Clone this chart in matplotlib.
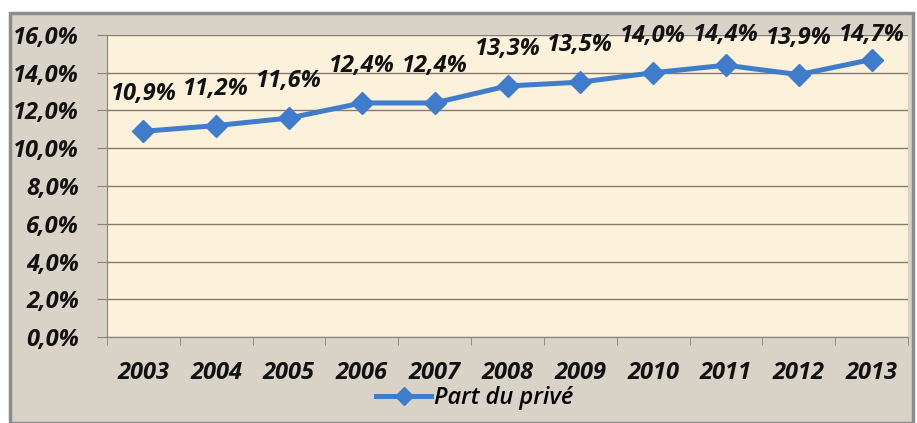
"""Part du privé 2003-2013, Excel-style line chart."""

import matplotlib
matplotlib.use('Agg')
import matplotlib.pyplot as plt  # pylint: disable=wrong-import-position
from matplotlib.patches import Rectangle  # pylint: disable=wrong-import-position
from matplotlib.ticker import FuncFormatter, FixedLocator  # pylint: disable=wrong-import-position

YEARS = ['2003', '2004', '2005', '2006', '2007', '2008',
         '2009', '2010', '2011', '2012', '2013']
PART_PRIVE = [10.9, 11.2, 11.6, 12.4, 12.4, 13.3, 13.5, 14.0, 14.4, 13.9, 14.7]
Y_TICKS = [0, 2, 4, 6, 8, 10, 12, 14, 16]

LINE_COLOR = '#3f7ccb'
FONT = 'Open Sans'
FS = 17


def fr_pct(v, _pos=None):
    return f"{v:.1f}%".replace('.', ',')


fig = plt.figure(figsize=(9.17, 4.23), dpi=100)
fig.patch.set_facecolor('white')

# outer chart frame
fig.patches.append(Rectangle((10 / 917, 0), 903 / 917, 1 - 13 / 423,
                             transform=fig.transFigure, facecolor='#d9d3c7',
                             edgecolor='#8c8c8c', linewidth=2.5, zorder=-1))

ax = fig.add_axes([107 / 917, 1 - 337 / 423, 801 / 917, 302 / 423])
ax.set_zorder(2)
ax.set_facecolor('#fcf2db')

x = list(range(len(YEARS)))
ax.plot(x, PART_PRIVE, '-', color=LINE_COLOR, linewidth=3.6,
        marker='D', markersize=11, label='Part du privé', zorder=3)

# data labels sit ~2 units above the point, but no higher than the top gridline
for xi, v in zip(x, PART_PRIVE):
    ax.text(xi, min(v + 1.95, 16.0), fr_pct(v), ha='center', va='center',
            fontsize=FS, fontweight='bold', fontstyle='italic', family=FONT,
            color='#111111', zorder=4, clip_on=False)

ax.set_xlim(-0.5, len(YEARS) - 0.5)
ax.set_ylim(0, 16)
ax.set_yticks(Y_TICKS)
ax.yaxis.set_major_formatter(FuncFormatter(fr_pct))
ax.set_xticks(x)
ax.set_xticklabels(YEARS)
ax.xaxis.set_minor_locator(FixedLocator([i - 0.5 for i in range(len(YEARS) + 1)]))
ax.tick_params(axis='x', which='major', length=0, pad=17)
ax.tick_params(axis='x', which='minor', length=6, color='#8a8275')
ax.tick_params(axis='y', length=7, color='#8a8275', pad=13)
for lab in ax.get_xticklabels() + ax.get_yticklabels():
    lab.set_family(FONT)
    lab.set_fontsize(FS)
    lab.set_fontweight('bold')
    lab.set_fontstyle('italic')
    lab.set_color('#111111')

ax.grid(axis='y', color='#857b6c', linewidth=1.0)
ax.set_axisbelow(True)
for side in ('top', 'right'):
    ax.spines[side].set_visible(False)
ax.spines['left'].set_color('#8a8275')
ax.spines['bottom'].set_color('#8a8275')

fig.legend(loc='center', bbox_to_anchor=(0.518, 0.059), frameon=False,
           handlelength=2.3, handletextpad=0.15, markerscale=0.8,
           prop={'family': FONT, 'style': 'italic', 'weight': 'semibold', 'size': 17})

fig.savefig('out.png', dpi=100)
plt.close(fig)
